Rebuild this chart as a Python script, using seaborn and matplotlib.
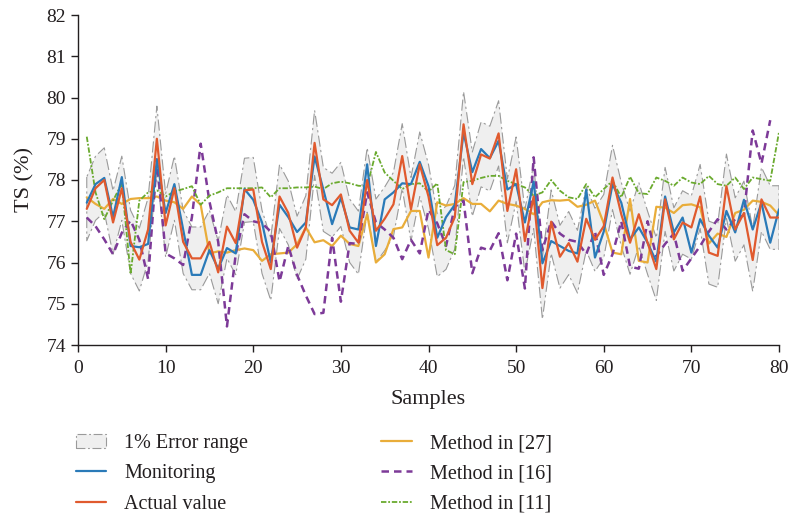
import numpy as np
import pandas as pd
import matplotlib
matplotlib.use("Agg")
import matplotlib.pyplot as plt
import seaborn as sns

samples = list(range(1, 81))

actual_value = [77.3, 77.8, 78.0, 76.97, 77.8, 76.5, 76.07, 76.8, 79.0, 76.9,
                77.8, 76.5, 76.1, 76.1, 76.5, 75.76, 76.87, 76.47, 77.75, 77.77,
                76.5, 75.84, 77.6, 77.2, 76.36, 76.85, 78.9, 77.53, 77.39, 77.65,
                76.77, 76.48, 78.0, 76.77, 77.06, 77.41, 78.58, 77.29, 78.38, 77.6,
                76.42, 76.6, 77.1, 79.35, 77.9, 78.62, 78.52, 79.13, 77.25, 78.26,
                76.52, 77.6, 75.38, 76.99, 76.14, 76.47, 76.02, 77.06, 76.55, 76.88,
                78.06, 77.17, 76.48, 77.17, 76.48, 75.84, 77.53, 76.56, 76.97, 76.85,
                77.6, 76.24, 76.16, 77.85, 76.8, 77.2, 76.06, 77.53, 77.09, 77.09]

monitoring = [77.45, 77.9, 78.05, 77.1, 78.07, 76.4, 76.37, 76.45, 78.5, 77.2,
              77.9, 76.8, 75.7, 75.7, 76.3, 75.85, 76.35, 76.22, 77.78, 77.52,
              76.97, 76.0, 77.4, 77.1, 76.74, 76.97, 78.57, 77.77, 76.93, 77.57,
              76.85, 76.8, 78.38, 76.4, 77.53, 77.7, 77.92, 77.9, 78.44, 77.85,
              76.6, 77.1, 77.4, 79.15, 78.19, 78.75, 78.53, 78.95, 77.77, 77.9,
              76.97, 77.96, 75.98, 76.52, 76.4, 76.28, 76.22, 77.76, 76.12, 76.75,
              77.9, 77.45, 76.56, 76.85, 76.48, 76.02, 77.6, 76.73, 77.09, 76.24,
              77.05, 76.65, 76.36, 77.25, 76.73, 77.52, 76.8, 77.45, 76.48, 77.29]

method_27 = [77.58, 77.42, 77.3, 77.54, 77.42, 77.54, 77.56, 77.56, 77.6, 77.5,
             77.46, 77.3, 77.6, 77.4, 76.22, 76.27, 76.24, 76.3, 76.34, 76.3,
             76.04, 76.2, 76.22, 76.24, 76.44, 76.85, 76.49, 76.54, 76.4, 76.65,
             76.45, 76.4, 77.17, 76.0, 76.2, 76.81, 76.85, 77.25, 77.25, 76.12,
             77.46, 77.38, 77.42, 77.56, 77.42, 77.42, 77.24, 77.5, 77.42, 77.38,
             77.3, 77.17, 77.46, 77.51, 77.5, 77.52, 77.35, 77.4, 77.5, 76.95,
             76.24, 76.2, 77.54, 76.04, 76.0, 77.35, 77.33, 77.2, 77.39, 77.41,
             77.34, 76.46, 76.7, 76.62, 77.2, 77.28, 77.5, 77.47, 77.38, 77.15]

method_16 = [77.09, 76.88, 76.56, 76.2, 76.72, 77.02, 76.55, 75.6, 78.5, 76.22,
             76.1, 75.94, 77.1, 78.88, 77.48, 76.5, 74.45, 76.2, 77.17, 77.0,
             76.95, 76.75, 75.54, 76.4, 75.7, 75.2, 74.75, 74.78, 76.6, 75.05,
             76.47, 76.45, 77.7, 76.97, 76.8, 76.6, 76.08, 76.55, 76.22, 77.28,
             76.95, 76.4, 77.35, 77.5, 75.74, 76.36, 76.29, 76.71, 75.57, 76.7,
             75.37, 78.55, 76.3, 77.0, 76.7, 76.55, 76.5, 76.2, 76.75, 75.7,
             76.2, 77.0, 75.9, 75.85, 77.0, 76.15, 76.45, 76.7, 75.8, 76.1,
             76.4, 76.75, 77.05, 76.8, 77.05, 77.15, 79.2, 78.4, 79.45, np.nan]

method_11 = [79.05, 77.7, 77.05, 77.5, 77.92, 75.72, 77.5, 77.7, 77.75, 77.6,
             77.72, 77.78, 77.85, 77.4, 77.62, 77.7, 77.8, 77.8, 77.8, 77.8,
             77.82, 77.58, 77.8, 77.8, 77.82, 77.82, 77.84, 77.78, 77.92, 77.96,
             77.92, 77.86, 77.85, 78.68, 78.18, 77.98, 77.78, 77.9, 77.92, 77.72,
             77.92, 76.3, 76.2, 77.95, 77.98, 78.05, 78.1, 78.1, 77.98, 77.9,
             77.82, 77.62, 77.7, 78.0, 77.74, 77.58, 77.54, 77.9, 77.58, 77.78,
             77.98, 77.58, 78.08, 77.68, 77.66, 78.06, 77.98, 77.86, 78.06, 77.94,
             77.9, 78.1, 77.9, 77.86, 78.06, 77.78, 78.06, 78.02, 77.98, 79.16]

error_pct = 0.01
x_ticks = [0, 10, 20, 30, 40, 50, 60, 70, 80]
y_ticks = [74, 75, 76, 77, 78, 79, 80, 81, 82]

sns.set_style("ticks")
plt.rcParams["font.family"] = ["Liberation Serif", "DejaVu Serif"]
text_color = "#231f20"
plt.rcParams["text.color"] = text_color
plt.rcParams["axes.labelcolor"] = text_color
plt.rcParams["xtick.color"] = text_color
plt.rcParams["ytick.color"] = text_color

fig = plt.figure(figsize=(7.9, 5.15), dpi=100)
ax = fig.add_axes([78 / 790, 170 / 515, 701 / 790, 330 / 515])

df = pd.DataFrame({"x": samples, "actual": actual_value, "mon": monitoring,
                   "m27": method_27, "m16": method_16, "m11": method_11})
lo = df["actual"] * (1 - error_pct)
hi = df["actual"] * (1 + error_pct)

band = ax.fill_between(df["x"], lo, hi, facecolor="#efefef", edgecolor="#9a9a9a",
                       linestyle=(0, (10, 3, 2, 3)), linewidth=0.8,
                       label="1% Error range", zorder=1)

sns.lineplot(data=df, x="x", y="mon", ax=ax, color="#2a7ab8", linewidth=1.6,
             label="Monitoring", zorder=3)
sns.lineplot(data=df, x="x", y="actual", ax=ax, color="#e05a2e", linewidth=1.6,
             label="Actual value", zorder=4)
sns.lineplot(data=df, x="x", y="m27", ax=ax, color="#e9ad3a", linewidth=1.6,
             label="Method in [27]", zorder=2)
l16 = sns.lineplot(data=df, x="x", y="m16", ax=ax, color="#7d3a98", linewidth=1.8,
                   label="Method in [16]", zorder=2).lines[-1]
l16.set_dashes((3, 2))
l11 = sns.lineplot(data=df, x="x", y="m11", ax=ax, color="#6aaa2e", linewidth=1.3,
                   label="Method in [11]", zorder=2).lines[-1]
l11.set_dashes((3, 1, 1, 1))

ax.set_xlim(0, 80)
ax.set_ylim(74, 82)
ax.set_xticks(x_ticks)
ax.set_yticks(y_ticks)
ax.tick_params(axis="both", labelsize=14, length=5, width=1, direction="out")
ax.tick_params(axis="x", pad=6)
ax.set_xlabel("Samples", fontsize=16, labelpad=9)
ax.set_ylabel("TS (%)", fontsize=16, labelpad=9)
sns.despine(ax=ax)
for sp in ["left", "bottom"]:
    ax.spines[sp].set_linewidth(1.0)
    ax.spines[sp].set_color(text_color)

handles, labels = ax.get_legend_handles_labels()
ax.get_legend().remove()
order = ["1% Error range", "Monitoring", "Actual value",
         "Method in [27]", "Method in [16]", "Method in [11]"]
hmap = dict(zip(labels, handles))
fig.legend([hmap[k] for k in order], order, loc="upper left",
           bbox_to_anchor=(58 / 790, 1 - 416 / 515), ncol=2, frameon=False,
           fontsize=14.5, handlelength=1.5, handletextpad=0.9,
           columnspacing=6.6, labelspacing=0.55)

fig.savefig("out.png", dpi=100)
